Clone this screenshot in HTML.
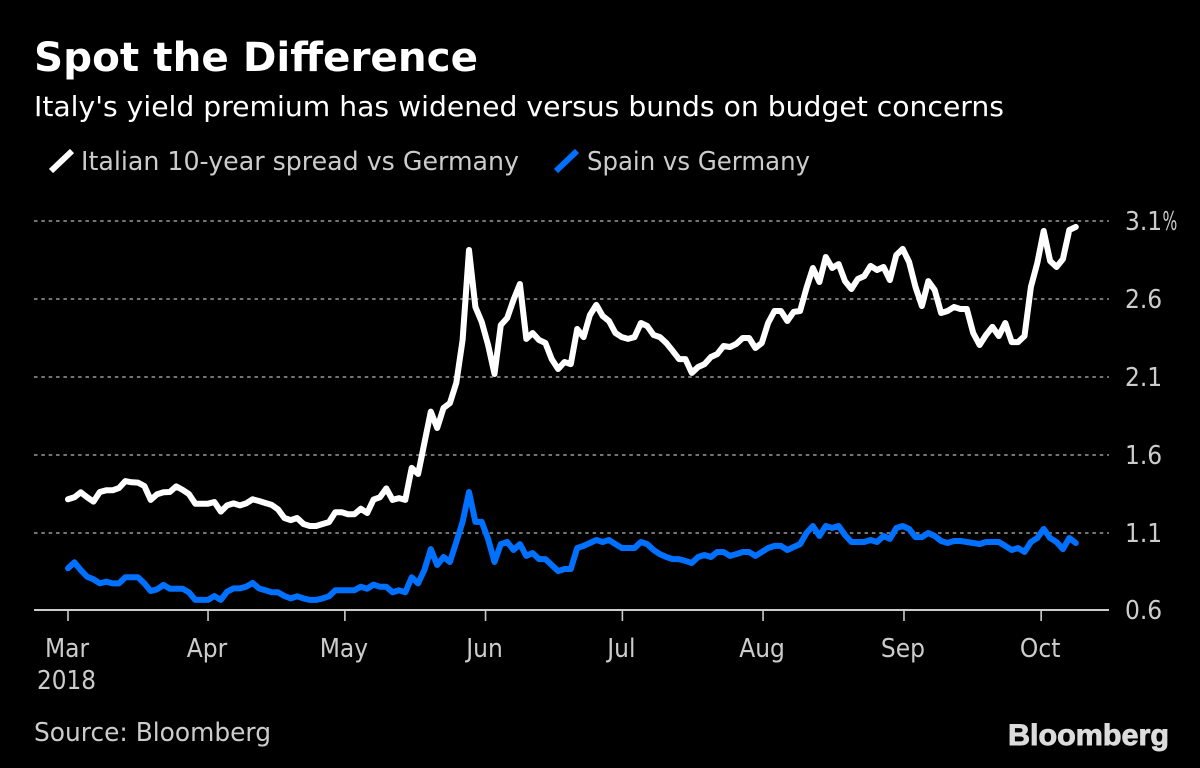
<!DOCTYPE html>
<html>
<head>
<meta charset="utf-8">
<title>Spot the Difference</title>
<style>
html,body{margin:0;padding:0;background:#000;}
svg{display:block;}
text{font-family:"DejaVu Sans","Liberation Sans",sans-serif;}
</style>
</head>
<body>
<svg id="chart" width="1200" height="768" viewBox="0 0 1200 768" xmlns="http://www.w3.org/2000/svg">
  <rect width="1200" height="768" fill="#000"/>
  <text x="34" y="71" font-size="40" font-weight="700" fill="#fff" textLength="444" lengthAdjust="spacingAndGlyphs">Spot the Difference</text>
  <text x="34" y="116" font-size="28" fill="#fff" textLength="970" lengthAdjust="spacingAndGlyphs">Italy's yield premium has widened versus bunds on budget concerns</text>
  <line x1="51" y1="171" x2="72" y2="151" stroke="#fff" stroke-width="6"/>
  <text x="81" y="170" font-size="26" fill="#ccc" textLength="438" lengthAdjust="spacingAndGlyphs">Italian 10-year spread vs Germany</text>
  <line x1="556" y1="171" x2="577" y2="151" stroke="#0070ff" stroke-width="6"/>
  <text x="587" y="170" font-size="26" fill="#ccc" textLength="223" lengthAdjust="spacingAndGlyphs">Spain vs Germany</text>
  <g id="grid"></g>
  <g id="axis"></g>
  <g id="ylabels"></g>
  <g id="series"></g>
  <text x="37" y="689" font-size="26" fill="#ccc" textLength="59" lengthAdjust="spacingAndGlyphs">2018</text>
  <text x="34" y="741" font-size="26" fill="#ccc" textLength="237" lengthAdjust="spacingAndGlyphs">Source: Bloomberg</text>
  <text x="1008" y="745" font-size="30" font-weight="700" fill="#dcdcdc" stroke="#dcdcdc" stroke-width="0.9" textLength="161" lengthAdjust="spacingAndGlyphs" style="font-family:'Liberation Sans',sans-serif">Bloomberg</text>
</svg>
<script>
const yTicks = [0.6, 1.1, 1.6, 2.1, 2.6, 3.1];
const yTickLabels = ["0.6", "1.1", "1.6", "2.1", "2.6", "3.1"];
const monthLabels = ["Mar", "Apr", "May", "Jun", "Jul", "Aug", "Sep", "Oct"];
const monthStartDay = [0, 22, 43.5, 65.6, 87.1, 109.2, 131.2, 152.6];
const italySpread = [
1.316,1.329,1.361,1.329,1.301,1.363,1.374,1.374,1.388,1.433,1.425,1.423,1.401,1.312,1.348,1.361,1.363,1.399,1.376,1.350,
1.288,1.288,1.288,1.299,1.237,1.277,1.290,1.277,1.290,1.316,1.305,1.292,1.280,1.252,1.196,1.183,1.196,1.158,1.145,1.145,
1.158,1.170,1.233,1.233,1.220,1.220,1.256,1.228,1.314,1.329,1.386,1.312,1.324,1.312,1.517,1.478,
1.677,1.878,1.773,1.901,1.933,2.062,2.337,2.914,2.549,2.453,2.305,2.119,2.433,2.478,2.594,2.696,2.344,2.382,2.337,2.318,
2.215,2.151,2.196,2.183,2.408,2.356,2.497,2.562,2.491,2.459,2.382,2.356,2.344,2.356,2.446,2.427,2.369,2.356,2.318,2.267,
2.215,2.215,2.126,2.164,2.183,2.228,2.247,2.299,2.292,2.312,2.350,2.350,2.286,2.318,2.446,
2.523,2.523,2.459,2.517,2.523,2.671,2.799,2.709,2.869,2.799,2.824,2.715,2.664,2.728,2.747,2.812,2.786,2.805,2.722,2.882,
2.921,2.837,2.677,2.555,2.715,2.658,2.510,2.523,2.549,2.536,2.536,2.382,2.305,2.369,2.421,2.363,2.446,2.324,2.324,2.363,
2.677,2.831,3.036,2.844,2.805,2.856,3.042,3.062
];
const spainSpread = [
0.874,0.912,0.863,0.820,0.803,0.777,0.788,0.777,0.777,0.816,0.816,0.816,0.777,0.728,0.739,0.767,0.743,0.743,0.743,0.720,
0.671,0.671,0.671,0.696,0.671,0.724,0.745,0.745,0.756,0.780,0.745,0.733,0.720,0.720,0.696,0.681,0.694,0.681,0.671,0.671,
0.681,0.694,0.733,0.733,0.733,0.733,0.756,0.743,0.769,0.756,0.756,0.720,0.733,0.720,0.816,0.777,0.863,
0.997,0.895,0.946,0.914,1.042,1.171,1.363,1.171,1.171,1.062,0.914,1.029,1.042,0.991,1.029,0.953,0.972,0.933,0.933,
0.895,0.856,0.869,0.869,1.004,1.017,1.036,1.055,1.042,1.055,1.029,1.004,1.004,1.004,1.042,1.029,0.991,0.965,0.946,0.933,
0.933,0.921,0.908,0.946,0.959,0.946,0.978,0.978,0.953,0.965,0.978,0.978,0.953,0.978,1.004,
1.017,1.017,0.991,1.010,1.029,1.100,1.145,1.081,1.145,1.132,1.145,1.087,1.042,1.042,1.042,1.055,1.042,1.081,1.062,1.132,
1.145,1.126,1.074,1.074,1.100,1.081,1.049,1.036,1.049,1.049,1.042,1.036,1.029,1.042,1.042,1.042,1.017,0.991,1.004,0.978,
1.042,1.068,1.126,1.068,1.042,0.997,1.068,1.036
];

const NS = "http://www.w3.org/2000/svg";
function xScale(day) {
  return day <= 112 ? 68 + day * 6.365 : 780.9 + (day - 112) * 6.41;
}
function yScale(v) { return 611 - (v - 0.6) * 156; }
function make(parent, tag, attrs, content) {
  const el = document.createElementNS(NS, tag);
  for (const k in attrs) el.setAttribute(k, attrs[k]);
  if (content !== undefined) el.textContent = content;
  parent.appendChild(el);
  return el;
}
const grid = document.getElementById("grid");
const axis = document.getElementById("axis");
const ylabels = document.getElementById("ylabels");
const series = document.getElementById("series");

yTicks.forEach(function (v, i) {
  const y = yScale(v);
  if (i > 0) {
    const g = make(grid, "line", {x1: 34, x2: 1109, y1: y, y2: y, stroke: "#747474", "stroke-width": 2, "stroke-dasharray": "3.5 3.85"});
    
    
  }
  const t = make(ylabels, "text", {transform: "translate(1125," + (y + 9 - (i === 0 ? 1 : 0)) + ") scale(0.9,1)", "font-size": 26, fill: "#ccc"}, yTickLabels[i]);
  
  
});
const topTick = yTicks[yTicks.length - 1];
const percentSign = make(ylabels, "text", {transform: "translate(1162.5," + (yScale(topTick) + 9) + ") scale(0.6,1)", "font-size": 26, fill: "#ccc"}, "%");



const axisLine = make(axis, "line", {x1: 34, x2: 1109, y1: yScale(0.6) - 1, y2: yScale(0.6) - 1, stroke: "#ccc", "stroke-width": 2});



monthLabels.forEach(function (m, i) {
  const x = xScale(monthStartDay[i]);
  const tick = make(axis, "line", {x1: x, x2: x, y1: yScale(0.6) - 1, y2: yScale(0.6) + 10, stroke: "#ccc", "stroke-width": 1.6});
  
  
  const t = make(axis, "text", {transform: "translate(" + (x - 1) + ",657) scale(0.9,1)", "font-size": 26, fill: "#ccc", "text-anchor": "middle"}, m);
  
  
});

function linePoints(values) {
  return values.map(function (v, i) { return xScale(i).toFixed(1) + "," + yScale(v).toFixed(1); }).join(" ");
}
const italyLine = make(series, "polyline", {points: linePoints(italySpread), fill: "none", stroke: "#fff", "stroke-width": 6, "stroke-linejoin": "round", "stroke-linecap": "round"});


const spainLine = make(series, "polyline", {points: linePoints(spainSpread), fill: "none", stroke: "#0070ff", "stroke-width": 6, "stroke-linejoin": "round", "stroke-linecap": "round"});


</script>
</body>
</html>
